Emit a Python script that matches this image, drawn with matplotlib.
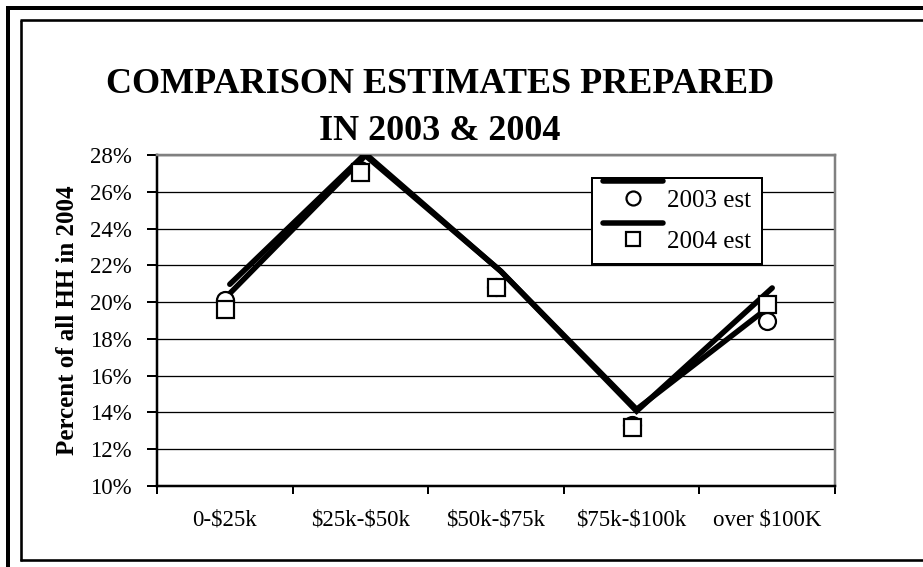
import matplotlib
matplotlib.use("Agg")
import matplotlib.pyplot as plt
from matplotlib.lines import Line2D
from matplotlib.legend_handler import HandlerBase
from matplotlib.transforms import ScaledTranslation

# Household income brackets and share of all households (%)
categories = ["0-$25k", "$25k-$50k", "$50k-$75k", "$75k-$100k", "over $100K"]
est_2003 = [20.1, 27.2, 20.8, 13.3, 19.0]
est_2004 = [19.6, 27.1, 20.8, 13.2, 19.9]
series_names = ["2003 est", "2004 est"]
y_ticks = [10, 12, 14, 16, 18, 20, 22, 24, 26, 28]

plt.rcParams["font.family"] = ["Liberation Serif", "DejaVu Serif"]
plt.rcParams["text.parse_math"] = False

W, H, DPI = 923, 567, 100
PT = 72 / DPI  # points per pixel
fig = plt.figure(figsize=(W / DPI, H / DPI), dpi=DPI)
fig.patch.set_facecolor("white")


# Double frame around the chart area (left/top outer, left/top/bottom inner)
def px_line(x0, y0, x1, y1, lw):
    fig.add_artist(Line2D([x0 / W, x1 / W], [1 - y0 / H, 1 - y1 / H],
                          color="black", lw=lw * PT,
                          transform=fig.transFigure, solid_capstyle="butt"))


px_line(8, 8, 8, H + 5, 4)
px_line(6, 8, W + 5, 8, 4)
px_line(20.5, 20, 20.5, 560.5, 2.6)
px_line(19.5, 20, W + 5, 20, 2.6)
px_line(19.5, 560, W + 5, 560, 2.6)

ax_l, ax_r, ax_t, ax_b = 157, 835, 155, 486
ax = fig.add_axes([ax_l / W, (H - ax_b) / H, (ax_r - ax_l) / W, (ax_b - ax_t) / H])
ax.set_facecolor("white")

x = list(range(1, len(categories) + 1))
ax.set_xlim(0.5, len(categories) + 0.5)
ax.set_ylim(10, 28)

# Gridlines
ax.set_yticks(y_ticks)
ax.set_yticklabels([f"{v}%" for v in y_ticks], fontsize=16.5)
ax.yaxis.grid(True, color="black", lw=1.3 * PT)
ax.set_axisbelow(True)

# Category labels centred between boundary tick marks
ax.set_xticks(x)
ax.set_xticklabels(categories, fontsize=16.5)
ax.set_xticks([i + 0.5 for i in range(0, len(categories) + 1)], minor=True)
ax.tick_params(axis="x", which="major", length=0, pad=17)
ax.tick_params(axis="x", which="minor", length=8 * PT, width=2 * PT, direction="out")
ax.tick_params(axis="y", which="major", length=10 * PT, width=2 * PT, direction="out",
               pad=15 * PT)

for side in ("left", "bottom"):
    ax.spines[side].set_color("black")
    ax.spines[side].set_linewidth(2.5 * PT)
for side in ("top", "right"):
    ax.spines[side].set_color("#808080")
    ax.spines[side].set_linewidth(2.5 * PT)

# Lines sit slightly up and to the right of their markers
line_shift = ax.transData + ScaledTranslation(5 / DPI, 16 / DPI, fig.dpi_scale_trans)
lw = 5.5 * PT
ms = 17 * PT
mew = 2.2 * PT
for vals in (est_2003, est_2004):
    ax.plot(x, vals, color="black", lw=lw, solid_capstyle="round",
            solid_joinstyle="miter", transform=line_shift, zorder=3)
for vals, mk in ((est_2003, "o"), (est_2004, "s")):
    ax.plot(x, vals, linestyle="none", marker=mk, ms=ms, mfc="white",
            mec="black", mew=mew, zorder=4)

ax.set_ylabel("Percent of all HH in 2004", fontsize=18, fontweight="bold", labelpad=8)

fig.text(440 / W, 1 - 85 / H, "COMPARISON ESTIMATES PREPARED", ha="center", va="center",
         fontsize=26, fontweight="bold")
fig.text(440 / W, 1 - 131 / H, "IN 2003 & 2004", ha="center", va="center",
         fontsize=26, fontweight="bold")


# Legend entries: the line stroke sits above its marker
class StackedHandler(HandlerBase):
    def __init__(self, marker):
        super().__init__()
        self.marker = marker

    def create_artists(self, legend, orig_handle, xdescent, ydescent, width, height,
                       fontsize, trans):
        ln = Line2D([-xdescent, width - xdescent], [height * 1.45 - ydescent] * 2,
                    color="black", lw=lw, solid_capstyle="round", transform=trans)
        mk = Line2D([width / 2 - xdescent], [height / 2 - ydescent], linestyle="none",
                    marker=self.marker, ms=14 * PT, mfc="white", mec="black",
                    mew=mew, transform=trans)
        return [ln, mk]


h1 = Line2D([], [], color="black")
h2 = Line2D([], [], color="black")
leg = ax.legend([h1, h2], series_names, loc="upper left",
                bbox_to_anchor=((592 - ax_l) / (ax_r - ax_l), 1 - (178 - ax_t) / (ax_b - ax_t)),
                handler_map={h1: StackedHandler("o"), h2: StackedHandler("s")},
                fontsize=18, frameon=True, fancybox=False, borderaxespad=0,
                handlelength=2.4, handletextpad=0.15, labelspacing=0.75,
                borderpad=0.45)
frame = leg.get_frame()
frame.set_edgecolor("black")
frame.set_linewidth(2 * PT)
frame.set_facecolor("white")
frame.set_alpha(1)
leg.set_zorder(6)

fig.savefig("out.png", dpi=DPI, facecolor="white")
